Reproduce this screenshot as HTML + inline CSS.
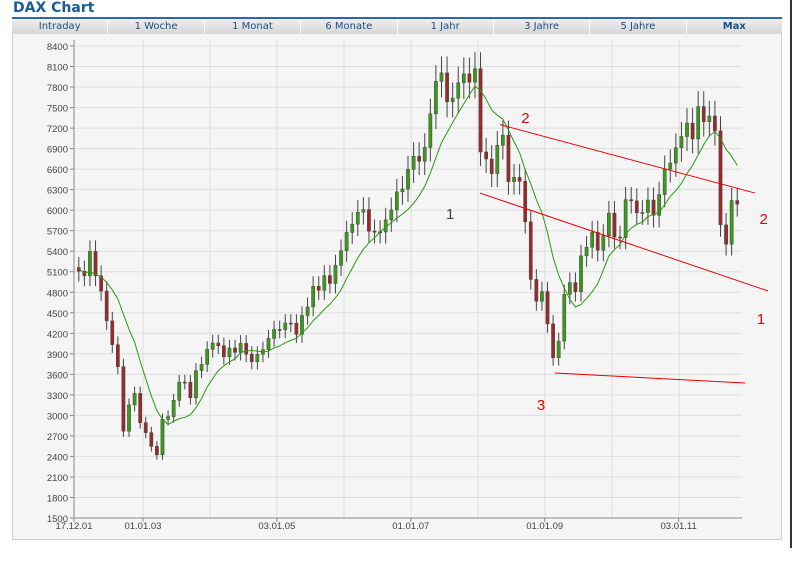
<!DOCTYPE html>
<html><head><meta charset="utf-8"><style>
body{margin:0;width:802px;height:562px;background:#fff;font-family:"Liberation Sans",sans-serif;position:relative;overflow:hidden}
#title{position:absolute;left:13px;top:0px;font-size:14px;font-weight:bold;color:#1b5a9a;font-family:"DejaVu Sans",sans-serif}
#rule{position:absolute;left:12px;top:17px;width:770px;height:2px;background:#2a68a8}
#box{position:absolute;left:12px;top:19px;width:768px;height:520px;border:1px solid #ccc;border-top:none;background:#f5f5f5}
#tabs{position:absolute;left:12px;top:19px;width:770px;height:15px;background:linear-gradient(#eee,#d6d6d6);display:flex}
.tab{flex:1;text-align:center;color:#1b4f86;line-height:15px;border-right:1px solid #f8f8f8;font-family:"DejaVu Sans",sans-serif;font-size:10px}
#vbar{position:absolute;left:790px;top:0;width:2px;height:548px;background:#333}
svg{position:absolute;left:0;top:0}
</style></head><body>
<div id="title">DAX Chart</div>
<div id="rule"></div>
<div id="box"></div>
<div id="tabs">
<div class="tab">Intraday</div>
<div class="tab">1 Woche</div>
<div class="tab">1 Monat</div>
<div class="tab">6 Monate</div>
<div class="tab">1 Jahr</div>
<div class="tab">3 Jahre</div>
<div class="tab">5 Jahre</div>
<div class="tab" style="font-weight:bold;border-right:none">Max</div>
</div>
<div id="vbar"></div>
<svg id="chart" width="802" height="562"></svg>
<script>
const yTicks=[1500,1800,2100,2400,2700,3000,3300,3600,3900,4200,4500,4800,5100,5400,5700,6000,6300,6600,6900,7200,7500,7800,8100,8400];
const xTickLabels=["17.12.01","01.01.03","03.01.05","01.01.07","01.01.09","03.01.11"];
const xTickMonths=[-0.5,12,36,60,84,108];
const closes=[5108,5039,5397,5041,4818,4382,4034,3712,2769,3153,3321,2893,
2748,2547,2424,2942,2982,3221,3487,3484,3257,3655,3745,3965,
4058,4018,3856,3985,3921,4052,3895,3785,3893,3960,4126,4256,
4254,4350,4349,4185,4460,4586,4887,4829,5044,4929,5193,5408,
5674,5796,5970,6009,5692,5683,5682,5859,6004,6268,6309,6597,
6789,6715,6917,7409,7883,8007,7584,7638,7862,7993,7871,8067,
6851,6748,6535,6949,7097,6418,6479,6422,5831,4988,4669,4810,
4338,3843,4085,4770,4941,4809,5332,5458,5675,5415,5625,5957,
5608,5598,6154,6136,5964,5966,6148,5925,6229,6601,6688,6914,
7077,7272,7041,7514,7294,7376,7159,5785,5502,6141,6088];
const firstOpen=5160;
const maStart=[5420,5380,5300,5200,5100,5000,4900,4800];
const trendMonths=[[75.5,7250,121.2,6250],[71.9,6250,123.5,4820],[85.3,3620,119.4,3473]];
const labels=[{t:"2",m:79.3,v:7275,c:"#e00"},{t:"1",m:65.8,v:5871,c:"#444"},{t:"2",m:122,v:5798,c:"#e00"},{t:"1",m:121.5,v:4336,c:"#e00"},{t:"3",m:82.1,v:3079,c:"#e00"}];

const svg=document.getElementById('chart');const NS="http://www.w3.org/2000/svg";
const X0=74,X1=742,Y0=46,Y1=518;
const yS=v=>Y1-(v-1500)*(Y1-Y0)/6900;
const xS=m=>76+(m+0.5)*5.58;
function mk(tag,at,name){const e=document.createElementNS(NS,tag);for(const k in at)e.setAttribute(k,at[k]);


svg.appendChild(e);return e;}
mk('rect',{x:X0,y:Y0-6,width:X1-X0,height:Y1-Y0+6,fill:'#f5f5f5'},'plot-area');
yTicks.forEach(v=>{const y=yS(v);
mk('line',{x1:X0,x2:X1,y1:y,y2:y,stroke:'#ddd'},'y-gridline');
mk('line',{x1:X0-4,x2:X0,y1:y,y2:y,stroke:'#888'},'y-tick');
const t=mk('text',{x:X0-6,y:y+4,'text-anchor':'end','font-size':9.5,fill:'#444'},'y-tick-label');t.textContent=v;});
for(let x=143;x<X1;x+=67)mk('line',{x1:x,x2:x,y1:Y0-6,y2:Y1,stroke:'#ddd'},'x-gridline');
mk('line',{x1:X0,x2:X0,y1:Y0-6,y2:Y1,stroke:'#888'},'y-axis');
mk('line',{x1:X0,x2:X1,y1:Y1,y2:Y1,stroke:'#888'},'x-axis');
xTickLabels.forEach((l,i)=>{const x=i==0?X0:xS(xTickMonths[i]-0.5);
mk('line',{x1:x,x2:x,y1:Y1,y2:Y1+4,stroke:'#888'},'x-tick');
const t=mk('text',{x:x,y:Y1+11,'text-anchor':'middle','font-size':9.5,fill:'#444'},'x-tick-label');t.textContent=l;});
closes.forEach((c,i)=>{const o=i?closes[i-1]:firstOpen;const x=xS(i);
const hi=Math.max(o,c)*1.03,lo=Math.min(o,c)*0.97;
mk('line',{x1:x,x2:x,y1:yS(hi),y2:yS(lo),stroke:'#444','stroke-width':1},'candle-wick');
const up=c>=o;mk('rect',{x:x-1.6,y:yS(Math.max(o,c)),width:3.2,height:Math.max(1,Math.abs(yS(o)-yS(c))),fill:up?'#3a9a1a':'#9a2a2a',stroke:'#444','stroke-width':0.5},up?'candle-up':'candle-down');});
// ~200-day moving average (9 months, trailing)
const series=maStart.concat(closes);let pts=[];
closes.forEach((c,i)=>{const j=i+maStart.length;const s=series.slice(j-8,j+1);const a=s.reduce((p,q)=>p+q,0)/s.length;pts.push(xS(i)+','+yS(a));});
mk('polyline',{points:pts.join(' '),fill:'none',stroke:'#2a9a10','stroke-width':1},'moving-average-line');
trendMonths.forEach(t=>mk('line',{x1:xS(t[0]),y1:yS(t[1]),x2:xS(t[2]),y2:yS(t[3]),stroke:'#e00','stroke-width':1},'trend-line'));
labels.forEach(l=>{const t=mk('text',{x:xS(l.m),y:yS(l.v),'font-size':15,fill:l.c},'trend-label');t.textContent=l.t;});
</script>
</body></html>
